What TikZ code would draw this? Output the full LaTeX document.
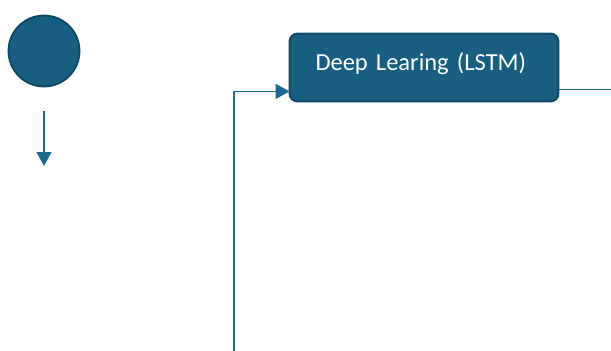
\documentclass[tikz,border=0pt]{standalone}
\usepackage{fontspec}
\setmainfont{Carlito}
\usetikzlibrary{arrows.meta}
\usetikzlibrary{positioning}

\definecolor{boxfill}{HTML}{175E80}
\definecolor{boxedge}{HTML}{0F4661}
\definecolor{flowline}{HTML}{1D6890}

\newcommand{\stagefont}{\fontsize{24.5}{26}\selectfont\spaceskip 0.18em\relax}

\tikzset{
    startdot/.style={circle, fill=boxfill, draw=boxedge, line width=1.8pt, minimum size=71pt, inner sep=0pt},
    stagebox/.style={rectangle, rounded corners=8pt, fill=boxfill, draw=boxedge, line width=1.8pt,
        minimum width=269pt, minimum height=68pt, text width=217pt, align=left, inner xsep=26pt,
        text depth=12pt, text=white, font=\stagefont},
    flow/.style={draw=flowline, line width=1.3pt},
    flowarrow/.style={flow, -{Triangle[length=14pt,width=15pt]}, shorten >=-1pt}
}

\begin{document}
\begin{tikzpicture}[x=1pt, y=-1pt]
            \useasboundingbox (0, 0) rectangle (611, 351);

            \node[startdot] (start) at (44, 51) {};
            \coordinate (startout) at (44, 111);
            \coordinate (startend) at (44, 165);
            \draw[flowarrow] (startout) -- (startend);

            \node[stagebox] (lstm) at (424, 67.5) {Deep Learing (LSTM)};
            \coordinate (loopin) at (234, 352);
            \coordinate (lstmout) at (612, 89);
            \draw[flowarrow] (loopin) |- ([yshift=11pt]lstm.south west);
            \draw[flow] ([yshift=13pt]lstm.south east) -- ([yshift=13pt]lstm.south east -| lstmout);
        \end{tikzpicture}
\end{document}
